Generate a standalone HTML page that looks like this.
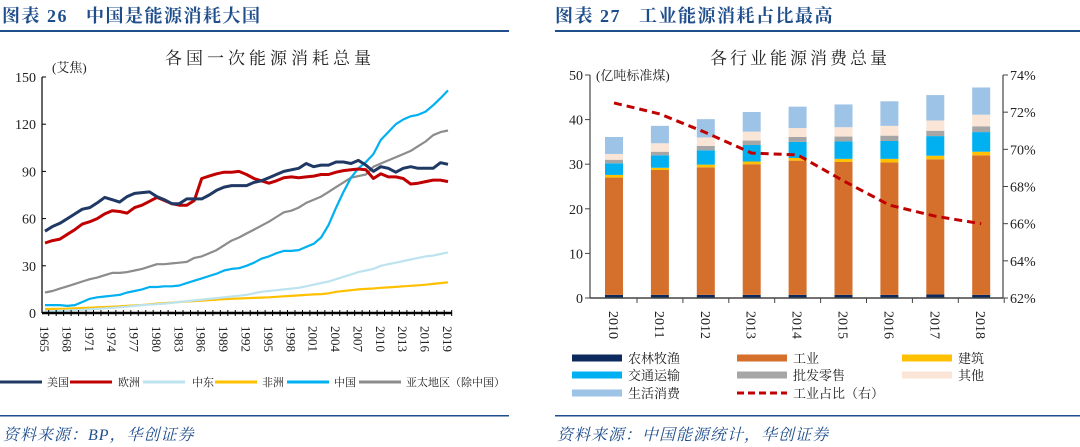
<!DOCTYPE html>
<html><head><meta charset="utf-8">
<style>
body{margin:0;background:#fff;width:1080px;height:447px;overflow:hidden}
svg{display:block}
text{font-family:"Liberation Serif","Noto Serif CJK SC",serif}
</style></head><body>
<svg id="s" width="1080" height="447" viewBox="0 0 1080 447" xmlns="http://www.w3.org/2000/svg">
<text x="2" y="22" font-size="18" font-weight="bold" letter-spacing="1.5" fill="#1f4e8c">图表 26 &#160; 中国是能源消耗大国</text>
<rect x="0" y="30" width="509" height="2" fill="#1f4e8c"/>
<text x="555" y="22" font-size="18" font-weight="bold" letter-spacing="1.5" fill="#1f4e8c">图表 27 &#160; 工业能源消耗占比最高</text>
<rect x="555" y="30" width="525" height="2" fill="#1f4e8c"/>
<rect x="0" y="415" width="509" height="1.5" fill="#1f4e8c"/>
<rect x="555" y="415" width="525" height="1.5" fill="#1f4e8c"/>
<text x="3" y="440" font-size="16" font-style="italic" letter-spacing="1" fill="#1f4e8c">资料来源：BP，华创证券</text>
<text x="557" y="440" font-size="16" font-style="italic" letter-spacing="1" fill="#1f4e8c">资料来源：中国能源统计，华创证券</text>
<g id="L"></g><g id="R"></g>
</svg>
<script>
const years=[];for(let y=1965;y<=2019;y++)years.push(y);
const usa=[52,55,57,60,63,66,67,70,73.5,72,70.5,74,76,76.5,77,74,72,69.5,69.5,72.5,72.5,72.5,75,78,80,81,81,81,83,84,86,88,90,91,92,95,93,94,94,96,96,95,97,94,90,93,92,89.5,92,93,92,92,92,95.5,94.5];
const europe=[44.5,46,47,50,53,56.5,58,60,63,65,64.5,63.5,67,68.5,71,73.5,71.5,69.5,68.5,68.5,71.5,85.5,87,88.5,89.5,89.5,90,88,85.5,84,82.5,84,86,86.5,86,86.5,87,88,88,89.5,90.5,91,91.5,91,85.5,88.5,86.5,86.5,85.5,82,82.5,83.5,84.5,84.5,83.5];
const mideast=[1,1.2,1.4,1.6,1.8,2,2.3,2.6,3,3.3,3.6,4,4.5,5,5.3,5.6,6,6.5,7,7.5,8,8.5,9,9.5,10,10.5,11,11.5,12.5,13.5,14,14.5,15,15.5,16,17,18,19,20,21.5,23,24.5,26,27,28,30,31,32,33,34,35,36,36.5,37.5,38.5];
const africa=[2.5,2.6,2.7,2.8,3,3.2,3.4,3.6,3.8,4,4.2,4.5,4.8,5.1,5.5,6,6.3,6.6,7,7.3,7.6,7.9,8.2,8.5,8.8,9,9.2,9.4,9.6,9.8,10,10.3,10.6,10.9,11.2,11.5,11.8,12,12.5,13.5,14,14.5,15,15.3,15.6,16,16.3,16.6,17,17.3,17.6,18,18.5,19,19.5];
const china=[5,5,5,4.5,5,7,9,10,10.5,11,11.5,13,14,15,16.5,16.5,17,17,17.5,19,20.5,22,23.5,25,27,28,28.5,30,32,34.5,36,38,39.5,39.5,40,42,44,48,56,67,77,86,92,96,101,110,115,120,123,125,126,128,132,136.5,141.5];
const apac=[13,14,15.5,17,18.5,20,21.5,22.5,24,25.5,25.5,26,27,28,29.5,31,31,31.5,32,32.5,35,36,38,40,43,46,48,50.5,53,55.5,58,61,64,65,67,70,72,74,77,80,83,86,87,88,93,95,97,99,101,103,106,109,113,115,116];
const leftTicks=[0,30,60,90,120,150];
const seriesNames=["美国","欧洲","中东","非洲","中国","亚太地区（除中国）"];
const seriesColors=["#1f3864","#c00000","#bde3ef","#ffc000","#00b0f0","#8c8c8c"];

const barYears=["2010","2011","2012","2013","2014","2015","2016","2017","2018"];
const agri=[0.7,0.7,0.7,0.7,0.7,0.7,0.7,0.8,0.7];
const industry=[26.3,28,28.6,29.3,30.1,29.8,29.7,30.3,31.3];
const construction=[0.6,0.5,0.6,0.6,0.6,0.7,0.8,0.8,0.8];
const transport=[2.6,2.8,3.2,3.7,3.6,3.9,4,4.4,4.4];
const retail=[0.8,0.8,1,1,1.1,1.1,1.2,1.2,1.3];
const other=[1.3,1.9,1.9,2,2,2.1,2.2,2.3,2.6];
const household=[3.8,3.9,4.1,4.4,4.8,5.1,5.5,5.7,6.1];
const industryShare=[72.5,71.9,70.9,69.8,69.7,68.3,67.0,66.4,66.0];
const rightTicksL=[0,10,20,30,40,50];
const rightTicksR=[62,64,66,68,70,72,74];
const barNames=["农林牧渔","工业","建筑","交通运输","批发零售","其他","生活消费"];
const barColors=["#0d2a5e","#d4702c","#ffc000","#00b0f0","#a6a6a6","#fbe5d6","#9dc3e6"];

const NS="http://www.w3.org/2000/svg";
function mk(tag,attrs,parent,txt){const e=document.createElementNS(NS,tag);for(const k in attrs)e.setAttribute(k,attrs[k]);if(txt!==undefined)e.textContent=txt;parent.appendChild(e);return e;}
const L=document.getElementById('L'),R=document.getElementById('R');

// LEFT CHART
const lx=i=>45+i*(403/54);
const ly=v=>313-v*(236/150);
let t=mk('text',{x:270,y:64,'font-size':17,'letter-spacing':4,'text-anchor':'middle',fill:'#222'},L,'各国一次能源消耗总量');


t=mk('text',{x:52,y:72,'font-size':13,fill:'#222'},L,'(艾焦)');


leftTicks.forEach(v=>{
  const e=mk('text',{x:36,y:ly(v)+5,'font-size':14,'text-anchor':'end',fill:'#222'},L,String(v));
  
  
  mk('line',{x1:42,x2:46,y1:ly(v),y2:ly(v),stroke:'#000'},L);
});
const allS=[usa,europe,mideast,africa,china,apac];
const drawOrder=[3,2,5,4,1,0];
drawOrder.forEach(si=>{
  const d=allS[si].map((v,i)=>(i?'L':'M')+lx(i).toFixed(1)+','+ly(v).toFixed(1)).join('');
  const p=mk('path',{d:d,fill:'none',stroke:seriesColors[si],'stroke-width':si<2?3:2.2,'stroke-linejoin':'round'},L);
  
  
});
let ax=mk('line',{x1:42,x2:42,y1:ly(150),y2:313,stroke:'#000','stroke-width':1.2},L);


ax=mk('line',{x1:42,x2:452,y1:313,y2:313,stroke:'#000','stroke-width':2.5},L);


years.forEach((y,i)=>{
  mk('line',{x1:lx(i)+3.7,x2:lx(i)+3.7,y1:310,y2:316,stroke:'#000','stroke-width':1},L);
  if(i%3===0){
    const e=mk('text',{x:0,y:0,'font-size':13,fill:'#222',transform:`translate(${lx(i)-5},326) rotate(90)`},L,String(y));
    
    
  }
});
const legX=[0,70,143,215,287,359],legT=[47,118,192,262,334,406];
seriesNames.forEach((n,i)=>{
  const g=mk('g',{},L);
  
  
  mk('line',{x1:legX[i],x2:legX[i]+42,y1:382,y2:382,stroke:seriesColors[i],'stroke-width':3},g);
  mk('text',{x:legT[i],y:386,'font-size':11,fill:'#222'},g,n);
});

// RIGHT CHART
const ry=v=>298-v*(223/50);
const rp=v=>298-(v-62)*(223/12);
const bx=i=>614+i*45.9;
t=mk('text',{x:800,y:64,'font-size':17,'letter-spacing':3,'text-anchor':'middle',fill:'#222'},R,'各行业能源消费总量');


t=mk('text',{x:596,y:80,'font-size':13,fill:'#222'},R,'(亿吨标准煤)');


rightTicksL.forEach(v=>{
  const e=mk('text',{x:583,y:ry(v)+5,'font-size':14,'text-anchor':'end',fill:'#222'},R,String(v));
  
  
  mk('line',{x1:585,x2:590,y1:ry(v),y2:ry(v),stroke:'#444'},R);
});
rightTicksR.forEach(v=>{
  const e=mk('text',{x:1010,y:rp(v)+5,'font-size':14,fill:'#222'},R,v+'%');
  
  
  mk('line',{x1:1003,x2:1008,y1:rp(v),y2:rp(v),stroke:'#444'},R);
});
const stacks=[agri,industry,construction,transport,retail,other,household];
barYears.forEach((y,i)=>{
  let base=0;
  stacks.forEach((arr,k)=>{
    const v=arr[i];
    const r=mk('rect',{x:bx(i)-9,y:ry(base+v),width:18,height:ry(base)-ry(base+v),fill:barColors[k]},R);
    
    
    base+=v;
  });
  const e=mk('text',{x:0,y:0,'font-size':14,fill:'#222',transform:`translate(${bx(i)-5},311) rotate(90)`},R,y);
  
  
  mk('line',{x1:bx(i)+23,x2:bx(i)+23,y1:298,y2:303,stroke:'#444'},R);
});
const ld=industryShare.map((v,i)=>(i?'L':'M')+bx(i).toFixed(1)+','+rp(v).toFixed(1)).join('');
const sl=mk('path',{d:ld,fill:'none',stroke:'#c00000','stroke-width':3,'stroke-dasharray':'8,5'},R);


ax=mk('line',{x1:590,x2:590,y1:ry(50),y2:298,stroke:'#444','stroke-width':1.2},R);


ax=mk('line',{x1:1003,x2:1003,y1:rp(74),y2:298,stroke:'#444','stroke-width':1.2},R);


ax=mk('line',{x1:590,x2:1003,y1:298,y2:298,stroke:'#444','stroke-width':1.5},R);


const lgItems=barNames.concat(['工业占比（右）']);
const colsX=[572,737,902],rowsY=[358,375,393];
[0,1,2,3,4,5,6,7].forEach((k,idx)=>{
  const c=idx%3,r=Math.floor(idx/3);
  const g=mk('g',{},R);
  
  
  if(k<7) mk('rect',{x:colsX[c],y:rowsY[r]-3.5,width:50,height:7,fill:barColors[k]},g);
  else mk('line',{x1:colsX[c],x2:colsX[c]+50,y1:rowsY[r],y2:rowsY[r],stroke:'#c00000','stroke-width':3,'stroke-dasharray':'7,4'},g);
  mk('text',{x:colsX[c]+56,y:rowsY[r]+5,'font-size':13,fill:'#222'},g,lgItems[k]);
});
</script>
</body></html>
